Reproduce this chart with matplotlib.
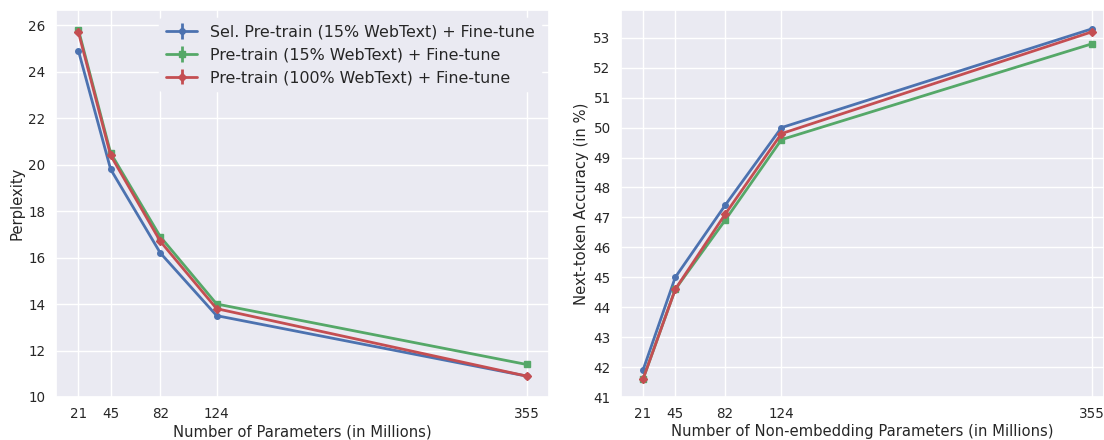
import matplotlib
matplotlib.use("Agg")
import matplotlib.pyplot as plt
import seaborn as sns

sns.set_theme(style="darkgrid")

params = [21, 45, 82, 124, 355]
labels = ["Sel. Pre-train (15% WebText) + Fine-tune",
          "Pre-train (15% WebText) + Fine-tune",
          "Pre-train (100% WebText) + Fine-tune"]

# perplexity
ppl_sel = [24.9, 19.8, 16.2, 13.5, 10.9]
ppl_15 = [25.8, 20.5, 16.9, 14.0, 11.4]
ppl_100 = [25.7, 20.4, 16.7, 13.8, 10.9]

# next-token accuracy (%)
acc_sel = [41.9, 45.0, 47.4, 50.0, 53.3]
acc_15 = [41.6, 44.6, 46.9, 49.6, 52.8]
acc_100 = [41.6, 44.6, 47.1, 49.8, 53.2]

colors = ["#4c72b0", "#55a868", "#c44e52"]
markers = ["o", "s", "D"]

fig = plt.figure(figsize=(11.04, 4.4), dpi=100)
# axes placed by hand to match the original layout
ax1 = fig.add_axes([56 / 1104, 43 / 440, 493 / 1104, 387 / 440])
ax2 = fig.add_axes([621 / 1104, 43 / 440, 483 / 1104, 387 / 440])

for ys, c, m, lab in zip([ppl_sel, ppl_15, ppl_100], colors, markers, labels):
    ax1.errorbar(params, ys, yerr=0, color=c, marker=m, markersize=4,
                 linewidth=2, label=lab)
for ys, c, m, lab in zip([acc_sel, acc_15, acc_100], colors, markers, labels):
    ax2.errorbar(params, ys, yerr=0, color=c, marker=m, markersize=4,
                 linewidth=2, label=lab)

ax1.set_xticks(params)
ax1.set_xlim(4.3, 371.7)
ax1.set_ylim(10, 26.65)
ax1.set_yticks(range(10, 27, 2))
ax1.set_xlabel("Number of Parameters (in Millions)", fontsize=10.6, labelpad=2)
ax1.set_ylabel("Perplexity", fontsize=10.6, labelpad=3)
leg = ax1.legend(loc="upper right", fontsize=11.4, framealpha=1)
leg.get_frame().set_edgecolor("#EAEAF2")

ax2.set_xticks(params)
ax2.set_xlim(4.6, 364)
ax2.set_ylim(41, 53.93)
ax2.set_yticks(range(41, 54))
ax2.set_xlabel("Number of Non-embedding Parameters (in Millions)", fontsize=10.6, labelpad=2)
ax2.set_ylabel("Next-token Accuracy (in %)", fontsize=10.6, labelpad=3)

for ax in (ax1, ax2):
    ax.tick_params(labelsize=9.75, pad=1.5)

plt.savefig("out.png")
